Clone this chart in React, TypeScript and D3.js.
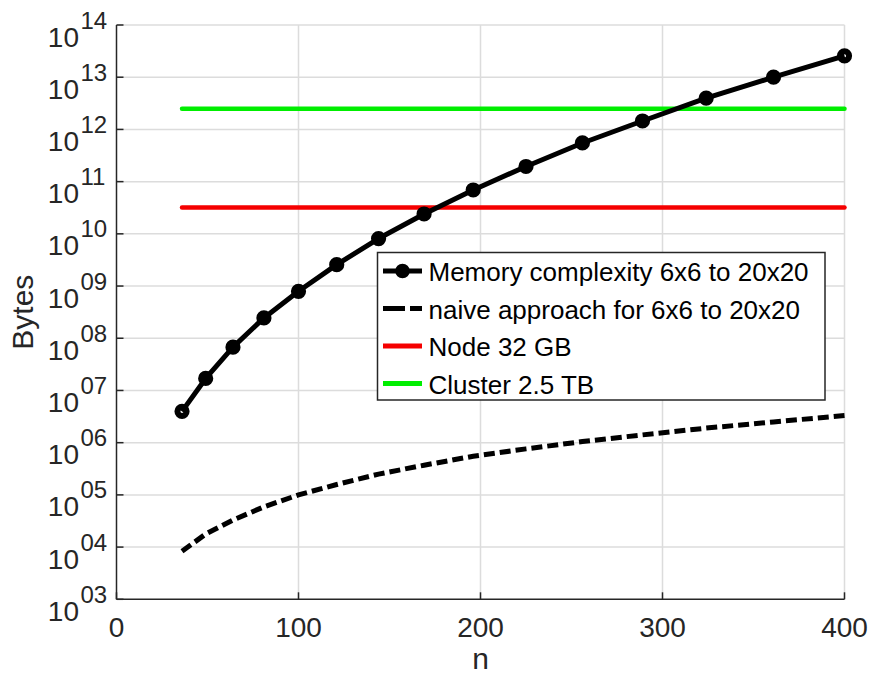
import React, { useEffect, useRef } from "react"
import * as d3 from "d3"

const WIDTH = 870
const HEIGHT = 675
const PLOT = { left: 116.5, right: 844.5, top: 25, bottom: 599.3 }
const FONT = "'Liberation Sans', Arial, Helvetica, sans-serif"
const INK = "#262626"

// matrix sizes 6x6 .. 20x20 -> n = k*k
const nValues = [36, 49, 64, 81, 100, 121, 144, 169, 196, 225, 256, 289, 324, 361, 400]
const memoryBytes = [
  3.98e6, 1.7e7, 6.76e7, 2.45e8, 7.94e8, 2.57e9, 8.13e9, 2.4e10, 6.92e10, 1.95e11, 5.5e11,
  1.45e12, 3.98e12, 1.0e13, 2.57e13,
]
const naiveBytes = [
  8.3e3, 1.78e4, 3.3e4, 5.9e4, 1.0e5, 1.58e5, 2.5e5, 3.7e5, 5.5e5, 7.6e5, 1.05e6, 1.41e6,
  1.9e6, 2.5e6, 3.3e6,
]
const nodeLimit = 3.2e10
const clusterLimit = 2.5e12

const xTicks = [0, 100, 200, 300, 400]
const yExponents = [3, 4, 5, 6, 7, 8, 9, 10, 11, 12, 13, 14]

const legendItems = [
  { label: "Memory complexity 6x6 to 20x20", color: "#000", dash: null, marker: true },
  { label: "naive approach for 6x6 to 20x20", color: "#000", dash: "22,5", marker: false },
  { label: "Node 32 GB", color: "#f50000", dash: null, marker: false },
  { label: "Cluster 2.5 TB", color: "#00ee00", dash: null, marker: false },
]

export default function App() {
  const svgRef = useRef<SVGSVGElement | null>(null)

  useEffect(() => {
    const svgEl = svgRef.current
    if (!svgEl) return
    const svg = d3.select(svgEl)
    svg.selectAll("*").remove()

    const x = d3.scaleLinear().domain([0, 400]).range([PLOT.left, PLOT.right])
    const y = d3.scaleLog().domain([1e3, 1e14]).range([PLOT.bottom, PLOT.top])

    svg.append("rect").attr("width", WIDTH).attr("height", HEIGHT).attr("fill", "#fff")

    // grid
    const grid = svg.append("g").attr("stroke", "#dcdcdc").attr("stroke-width", 1.5)
    xTicks.slice(1).forEach(t => {
      grid.append("line").attr("x1", x(t)).attr("x2", x(t)).attr("y1", PLOT.top).attr("y2", PLOT.bottom)
    })
    yExponents.slice(1).forEach(e => {
      grid
        .append("line")
        .attr("x1", PLOT.left)
        .attr("x2", PLOT.right)
        .attr("y1", y(10 ** e))
        .attr("y2", y(10 ** e))
    })

    // axes
    const axes = svg.append("g").attr("stroke", INK).attr("stroke-width", 1.5)
    axes.append("line").attr("x1", PLOT.left).attr("x2", PLOT.left).attr("y1", PLOT.top).attr("y2", PLOT.bottom)
    axes.append("line").attr("x1", PLOT.left).attr("x2", PLOT.right).attr("y1", PLOT.bottom).attr("y2", PLOT.bottom)
    xTicks.forEach(t => {
      axes.append("line").attr("x1", x(t)).attr("x2", x(t)).attr("y1", PLOT.bottom).attr("y2", PLOT.bottom - 7)
    })
    yExponents.forEach(e => {
      axes.append("line").attr("x1", PLOT.left).attr("x2", PLOT.left + 7).attr("y1", y(10 ** e)).attr("y2", y(10 ** e))
    })

    const labels = svg.append("g").attr("font-family", FONT).attr("fill", INK)
    xTicks.forEach(t => {
      labels
        .append("text")
        .attr("x", x(t))
        .attr("y", 637)
        .attr("text-anchor", "middle")
        .attr("font-size", 28)
        .text(t)
    })
    yExponents.forEach(e => {
      const ty = y(10 ** e)
      labels
        .append("text")
        .attr("x", 79)
        .attr("y", ty + 21.5)
        .attr("text-anchor", "end")
        .attr("font-size", 28)
        .text("10")
      labels
        .append("text")
        .attr("x", 80.5)
        .attr("y", ty + 3.5)
        .attr("font-size", 24)
        .text(String(e).padStart(2, "0"))
    })
    labels
      .append("text")
      .attr("x", (PLOT.left + PLOT.right) / 2)
      .attr("y", 669)
      .attr("text-anchor", "middle")
      .attr("font-size", 30)
      .text("n")
    labels
      .append("text")
      .attr("transform", `translate(33,${(PLOT.top + PLOT.bottom) / 2}) rotate(-90)`)
      .attr("text-anchor", "middle")
      .attr("font-size", 30)
      .text("Bytes")

    const line = d3
      .line<[number, number]>()
      .x(d => x(d[0]))
      .y(d => y(d[1]))

    const n0 = nValues[0]
    const n1 = nValues[nValues.length - 1]
    svg
      .append("path")
      .attr("d", line([[n0, nodeLimit], [n1, nodeLimit]]))
      .attr("stroke", "#f50000")
      .attr("stroke-width", 4.5)
      .attr("stroke-linecap", "round")
    svg
      .append("path")
      .attr("d", line([[n0, clusterLimit], [n1, clusterLimit]]))
      .attr("stroke", "#00ee00")
      .attr("stroke-width", 4.5)
      .attr("stroke-linecap", "round")

    svg
      .append("path")
      .attr("d", line(nValues.map((n, i) => [n, naiveBytes[i]])))
      .attr("fill", "none")
      .attr("stroke", "#000")
      .attr("stroke-width", 5)
      .attr("stroke-dasharray", "11,5")

    svg
      .append("path")
      .attr("d", line(nValues.map((n, i) => [n, memoryBytes[i]])))
      .attr("fill", "none")
      .attr("stroke", "#000")
      .attr("stroke-width", 5)
      .attr("stroke-linejoin", "round")
    svg
      .append("g")
      .selectAll("circle")
      .data(nValues)
      .join("circle")
      .attr("cx", n => x(n))
      .attr("cy", (_, i) => y(memoryBytes[i]))
      .attr("r", 4.6)
      .attr("fill", "none")
      .attr("stroke", "#000")
      .attr("stroke-width", 6)

    // legend
    const lg = svg.append("g")
    lg.append("rect")
      .attr("x", 377.5)
      .attr("y", 252.5)
      .attr("width", 447.5)
      .attr("height", 147.5)
      .attr("fill", "#fff")
      .attr("stroke", INK)
      .attr("stroke-width", 1.5)
    legendItems.forEach((item, i) => {
      const base = 281 + i * 37.5
      const cy = base - 10
      lg.append("line")
        .attr("x1", 383)
        .attr("x2", 422)
        .attr("y1", cy)
        .attr("y2", cy)
        .attr("stroke", item.color)
        .attr("stroke-width", 5)
        .attr("stroke-dasharray", item.dash)
      if (item.marker) {
        lg.append("circle")
          .attr("cx", 402.5)
          .attr("cy", cy)
          .attr("r", 5)
          .attr("fill", "#000")
          .attr("stroke", "#000")
          .attr("stroke-width", 4.5)
      }
      lg.append("text")
        .attr("x", 428.5)
        .attr("y", base)
        .attr("font-family", FONT)
        .attr("font-size", 26)
        .attr("fill", "#000")
        .text(item.label)
    })
  }, [])

  return (
    <svg
      ref={svgRef}
      width={WIDTH}
      height={HEIGHT}
      style={{ position: "absolute", left: 0, top: 0, display: "block" }}
    />
  )
}
